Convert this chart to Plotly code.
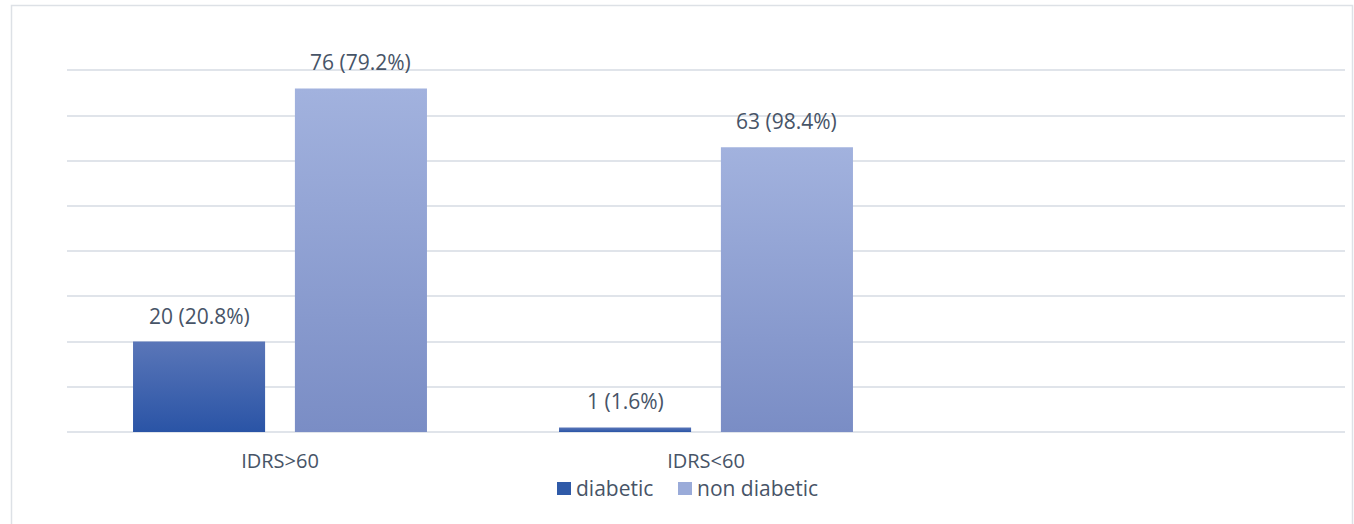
import plotly.graph_objects as go

# Data
categories = ["IDRS>60", "IDRS<60", ""]
diabetic = [20, 1]
diabetic_pct = [20.8, 1.6]
non_diabetic = [76, 63]
non_diabetic_pct = [79.2, 98.4]

series = [
    dict(name="diabetic", values=diabetic, pct=diabetic_pct,
         top="#5a76b8", bottom="#2a54a6", swatch="#2f5aa8", offset=-0.19,
         legend_x=557),
    dict(name="non diabetic", values=non_diabetic, pct=non_diabetic_pct,
         top="#a2b2de", bottom="#7a8dc5", swatch="#9aabd9", offset=0.19,
         legend_x=678),
]

HALF_W = 0.155
TEXT_COLOR = "#475467"
FONT = "Open Sans"
LABEL_SIZE = 21
TICK_SIZE = 20

W, H = 1354, 524
M_L, M_R, M_T, M_B = 67, 9, 69, 92
PLOT_W = W - M_L - M_R
PLOT_H = H - M_T - M_B


def px_x(px):
    return (px - M_L) / PLOT_W


def px_y(py):
    return (H - M_B - py) / PLOT_H


fig = go.Figure()
annotations = []
shapes = []

for s in series:
    for i, v in enumerate(s["values"]):
        x0 = i + s["offset"] - HALF_W
        x1 = i + s["offset"] + HALF_W
        # bar body with vertical gradient
        fig.add_trace(go.Scatter(
            x=[x0, x0, x1, x1, x0], y=[0, v, v, 0, 0],
            mode="none", fill="toself",
            fillgradient=dict(type="vertical",
                              colorscale=[[0, s["bottom"]], [1, s["top"]]]),
            showlegend=False, hoverinfo="skip",
        ))
    # value labels above bars
    for i, (v, p) in enumerate(zip(s["values"], s["pct"])):
        annotations.append(dict(
            x=i + s["offset"], y=v, xref="x", yref="y",
            text=f"{v} ({p}%)", showarrow=False,
            xanchor="center", yanchor="bottom", yshift=10,
            font=dict(family=FONT, size=LABEL_SIZE, color=TEXT_COLOR),
        ))
    # legend entry: swatch + name
    lx = s["legend_x"]
    shapes.append(dict(type="rect", xref="paper", yref="paper",
                       x0=px_x(lx), x1=px_x(lx + 14),
                       y0=px_y(495), y1=px_y(482),
                       line=dict(width=0), fillcolor=s["swatch"]))
    annotations.append(dict(
        x=px_x(lx + 17), y=px_y(488), xref="paper", yref="paper",
        text=s["name"], showarrow=False, xanchor="left", yanchor="middle",
        font=dict(family=FONT, size=LABEL_SIZE, color=TEXT_COLOR),
    ))

# outer chart border
shapes.append(dict(type="rect", xref="paper", yref="paper",
                   x0=px_x(11.5), x1=px_x(1352.5),
                   y0=px_y(H + 20), y1=px_y(5.5),
                   line=dict(color="#dde1e6", width=1.5),
                   fillcolor="rgba(0,0,0,0)", layer="below"))

fig.update_layout(
    width=W, height=H,
    margin=dict(l=M_L, r=M_R, t=M_T, b=M_B),
    paper_bgcolor="white", plot_bgcolor="white",
    font=dict(family=FONT, size=TICK_SIZE, color=TEXT_COLOR),
    showlegend=False,
    xaxis=dict(range=[-0.5, 2.5], tickmode="array",
               tickvals=[0, 1, 2], ticktext=categories,
               showgrid=False, zeroline=False, showline=False,
               ticks="", ticklen=0, ticklabelstandoff=15,
               tickfont=dict(family=FONT, size=TICK_SIZE, color=TEXT_COLOR)),
    yaxis=dict(range=[0, 80.3], tickmode="linear", tick0=0, dtick=10,
               showticklabels=False,
               showgrid=True, gridcolor="#e0e4ea", gridwidth=1.5,
               zeroline=True, zerolinecolor="#e0e4ea", zerolinewidth=1.5,
               showline=False, ticks=""),
    annotations=annotations,
    shapes=shapes,
)

fig.write_html("out.html")
